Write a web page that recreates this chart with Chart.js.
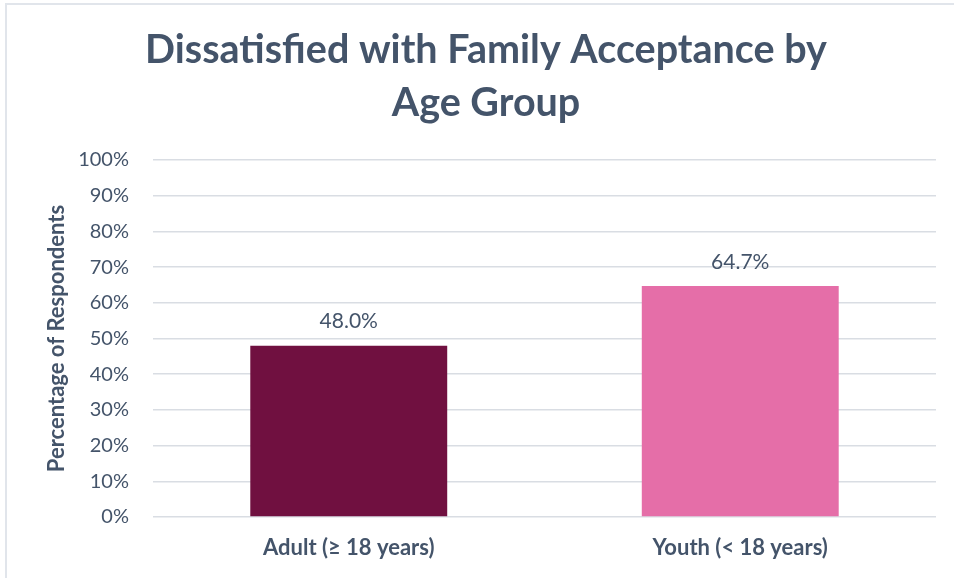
<!DOCTYPE html>
<html>
<head>
<meta charset="utf-8">
<script src="https://cdn.jsdelivr.net/npm/chart.js@4.4.1/dist/chart.umd.min.js"></script>
<style>
  html, body { margin: 0; padding: 0; background: #fff; }
  #wrap { position: relative; width: 954px; height: 578px; overflow: hidden; }
  #frame {
    position: absolute; left: 5px; top: 3px; width: 960px; height: 590px;
    border-left: 2px solid #E1E5EB; border-top: 2px solid #E1E5EB;
  }
  canvas { position: absolute; left: 0; top: 0; }
</style>
</head>
<body>
<div id="wrap">
  <div id="frame"></div>
  <canvas id="chart" width="954" height="578"></canvas>
</div>
<script>
const titleLines = ["Dissatisfied with Family Acceptance by", "Age Group"];
const ageGroups = ["Adult (\u2265 18 years)", "Youth (< 18 years)"];
const dissatisfiedPct = [48.0, 64.7];
const barColors = ["#701040", "#E56EA8"];
const yTicks = [0, 10, 20, 30, 40, 50, 60, 70, 80, 90, 100];

const slate = "#44546A";
const fontFamily = "Lato, 'Open Sans', sans-serif";

// two-line heading, centred on the whole frame rather than the plot
const heading = {
  id: "heading",
  afterDraw(chart) {
    const ctx = chart.ctx;
    ctx.save();
    ctx.font = "bold 39.5px " + fontFamily;
    ctx.fillStyle = slate;
    ctx.textAlign = "center";
    ctx.textBaseline = "middle";
    titleLines.forEach((line, i) => ctx.fillText(line, 486, 50 + i * 53));
    ctx.restore();
  }
};

// value labels above each bar
const barLabels = {
  id: "barLabels",
  afterDatasetsDraw(chart) {
    const ctx = chart.ctx;
    const meta = chart.getDatasetMeta(0);
    ctx.save();
    ctx.font = "21px " + fontFamily;
    ctx.fillStyle = slate;
    ctx.textAlign = "center";
    ctx.textBaseline = "middle";
    meta.data.forEach((bar, i) => {
      ctx.fillText(dissatisfiedPct[i].toFixed(1) + "%", bar.x, bar.y - 24);
    });
    ctx.restore();
  }
};

new Chart(document.getElementById("chart"), {
  type: "bar",
  data: {
    labels: ageGroups,
    datasets: [{
      data: dissatisfiedPct,
      backgroundColor: barColors,
      borderWidth: 0,
      categoryPercentage: 1,
      barPercentage: 0.503
    }]
  },
  options: {
    responsive: false,
    animation: false,
    layout: { padding: { left: 0, right: 18, top: 160, bottom: 0 } },
    plugins: {
      legend: { display: false },
      tooltip: { enabled: false },
      title: { display: false }
    },
    scales: {
      x: {
        grid: { display: false },
        border: { display: false },
        ticks: {
          color: slate,
          padding: 10,
          font: { family: fontFamily, size: 22, weight: "bold" }
        },
        afterFit(scale) { scale.height = 61; }
      },
      y: {
        min: 0,
        max: 100,
        afterBuildTicks(scale) { scale.ticks = yTicks.map(v => ({ value: v })); },
        grid: { color: "#D9DDE3", lineWidth: 1.5, drawTicks: false },
        border: { display: false },
        ticks: {
          color: slate,
          padding: 24,
          font: { family: fontFamily, size: 20 },
          callback: v => v + "%"
        },
        title: {
          display: true,
          text: "Percentage of Respondents",
          color: slate,
          font: { family: fontFamily, size: 22, weight: "bold" },
          padding: { top: 44, bottom: 0 }
        },
        afterFit(scale) { scale.width = 153; }
      }
    }
  },
  plugins: [barLabels, heading]
});
</script>
</body>
</html>
